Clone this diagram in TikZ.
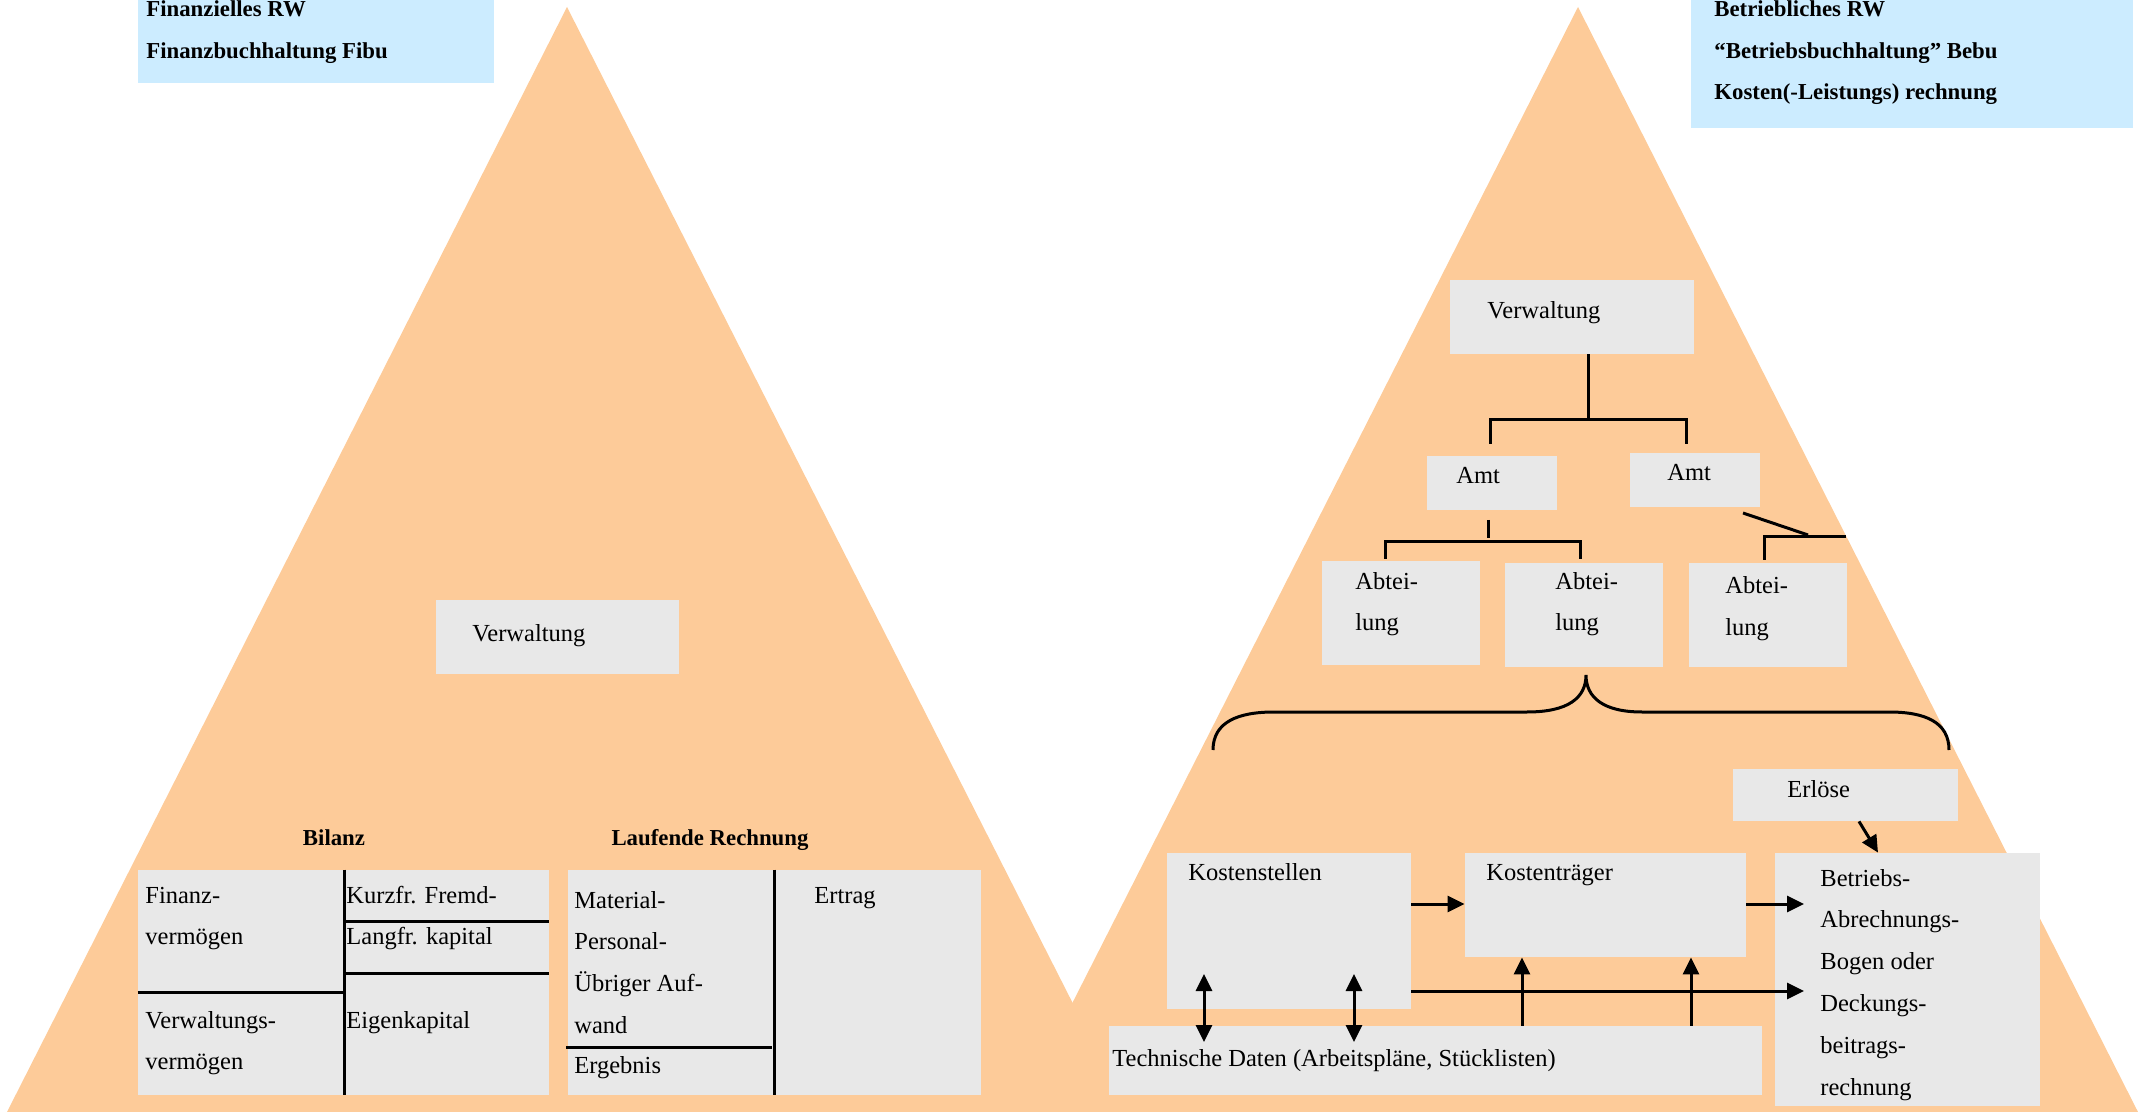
\documentclass[tikz,border=0pt]{standalone}
\usepackage{fontspec}
\setmainfont{Liberation Serif}
\usetikzlibrary{arrows.meta,fit}
\definecolor{orng}{RGB}{253,203,153}
\definecolor{lblue}{RGB}{204,236,255}
\definecolor{lgrey}{RGB}{232,232,232}
\newcommand\mlines[1]{\begin{tabular}[t]{@{}l@{}}#1\end{tabular}}
\begin{document}
\begin{tikzpicture}[x=0.5pt,y=-0.5pt,
  gbox/.style={fill=lgrey, draw=none, inner sep=0pt},
  bbox/.style={fill=lblue, draw=none, inner sep=0pt},
  txt/.style={anchor=base west, inner sep=0pt, font=\fontsize{12.25}{20.9}\selectfont},
  hdr/.style={anchor=base west, inner sep=0pt, font=\bfseries\fontsize{11.4}{20.6}\selectfont},
  hdrc/.style={anchor=base, inner sep=0pt, font=\bfseries\fontsize{11.4}{20.6}\selectfont},
  ln/.style={line width=1.5pt},
  arr/.style={line width=1.5pt, -{Triangle[length=8.5pt,width=8pt]}},
  darr/.style={line width=1.5pt, {Triangle[length=8.5pt,width=8pt]}-{Triangle[length=8.5pt,width=8pt]}}
]
\useasboundingbox (0,0) rectangle (2138,1112);
% pyramids
\fill[orng] (567,7) -- (7,1112) -- (1128,1112) -- cycle;
\fill[orng] (1578,7) -- (1017,1112) -- (2138,1112) -- cycle;

% header boxes
\node[bbox, fit={(138,0) (494,83)}] (fb) {};
\node[hdr] (fbt) at (146,17) {\mlines{Finanzielles RW\\Finanzbuchhaltung Fibu}};
\node[bbox, fit={(1691,0) (2133,128)}] (bb) {};
\node[hdr] (bbt) at (1714,17) {\mlines{Betriebliches RW\\“Betriebsbuchhaltung” Bebu\\Kosten(-Leistungs) rechnung}};

% ---------- left pyramid ----------
\node[gbox, fit={(436,600) (679,674)}] (lv) {};
\node[txt] (lvt) at (472,641) {Verwaltung};

\node[hdrc] (bil) at (334,845) {Bilanz};
\node[hdrc] (lr) at (710,845) {Laufende Rechnung};

\node[gbox, fit={(138,870) (549,1095)}] (bt) {};
\draw[ln] (bt.north -| 344,0) -- (bt.south -| 344,0);
\draw[ln] (bt.west |- 0,992) -- (344,992);
\draw[ln] (344,921) -- (bt.east |- 0,921);
\draw[ln] (344,973) -- (bt.east |- 0,973);
\node[txt] (fv) at (145,903) {\mlines{Finanz-\\vermögen}};
\node[txt] (vv) at (145,1028) {\mlines{Verwaltungs-\\vermögen}};
\node[txt] (kf) at (346,903) {Kurzfr. Fremd-};
\node[txt] (lk) at (346,944) {Langfr. kapital};
\node[txt] (ek) at (346,1028) {Eigenkapital};

\node[gbox, fit={(568,870) (981,1095)}] (lt) {};
\draw[ln] (lt.north -| 774,0) -- (lt.south -| 774,0);
\draw[ln] (566,1047) -- (772,1047);
\node[txt] (mat) at (574,908) {\mlines{Material-\\Personal-\\Übriger Auf-\\wand}};
\node[txt] (erg) at (574,1073) {Ergebnis};
\node[txt] (ert) at (814,903) {Ertrag};

% ---------- right pyramid ----------
\node[gbox, fit={(1450,280) (1694,354)}] (rv) {};
\node[txt] (rvt) at (1487,319) {Verwaltung};
\node[gbox, fit={(1427,456) (1557,510)}] (amt1) {};
\node[txt] (amt1t) at (1456,484) {Amt};
\node[gbox, fit={(1630,453) (1760,507)}] (amt2) {};
\node[txt] (amt2t) at (1667,481) {Amt};

\draw[ln] (rv.south -| 1588,0) -- (1588,420);
\draw[ln] (1490,444) -- (1490,420) -- (1686,420) -- (1686,444);
\draw[ln] (1488,520) -- (1488,538);
\draw[ln] (1385,559) -- (1385,542) -- (1580,542) -- (1580,559);
\draw[ln] (1743,513) -- (1808,535);
\draw[ln] (1764,560) -- (1764,537) -- (1846,537);

\node[gbox, fit={(1322,561) (1480,665)}] (ab1) {};
\node[txt] (ab1t) at (1355,589) {\mlines{Abtei-\\lung}};
\node[gbox, fit={(1505,563) (1663,667)}] (ab2) {};
\node[txt] (ab2t) at (1555,589) {\mlines{Abtei-\\lung}};
\node[gbox, fit={(1689,563) (1847,667)}] (ab3) {};
\node[txt] (ab3t) at (1725,594) {\mlines{Abtei-\\lung}};

% brace
\draw[ln] (1213,750) .. controls (1213,722) and (1238,712) .. (1274,712)
  -- (1527,712) .. controls (1568,712) and (1586,698) .. (1586,675)
  .. controls (1586,698) and (1604,712) .. (1642,712)
  -- (1889,712) .. controls (1925,712) and (1949,722) .. (1949,750);

\node[gbox, fit={(1733,769) (1958,821)}] (erl) {};
\node[txt] (erlt) at (1787,797) {Erlöse};

\node[gbox, fit={(1167,853) (1411,1009)}] (ks) {};
\node[txt] (kst) at (1188,880) {Kostenstellen};
\node[gbox, fit={(1465,853) (1746,957)}] (kt) {};
\node[txt] (ktt) at (1486,880) {Kostenträger};
\node[gbox, fit={(1775,853) (2040,1106)}] (bab) {};
\node[txt] (babt) at (1820,886) {\mlines{Betriebs-\\Abrechnungs-\\Bogen oder\\Deckungs-\\beitrags-\\rechnung}};
\node[gbox, fit={(1109,1026) (1762,1095)}] (td) {};
\node[txt] (tdt) at (1112,1066) {Technische Daten (Arbeitspläne, Stücklisten)};

\coordinate (e1) at (1804,904);
\coordinate (e2) at (1804,991);
\draw[arr] (erl.south -| 1859,0) -- (bab.north -| 1878,0);
\draw[arr] (ks.east |- 0,904) -- (kt.west |- 0,904);
\draw[arr] (kt.east |- 0,904) -- (e1);
\draw[arr] (ks.east |- 0,991) -- (e2);
\draw[darr] (1204,974) -- (1204,1042);
\draw[darr] (1354,974) -- (1354,1042);
\draw[arr] (td.north -| 1522,0) -- (kt.south -| 1522,0);
\draw[arr] (td.north -| 1691,0) -- (kt.south -| 1691,0);
\end{tikzpicture}
\end{document}
